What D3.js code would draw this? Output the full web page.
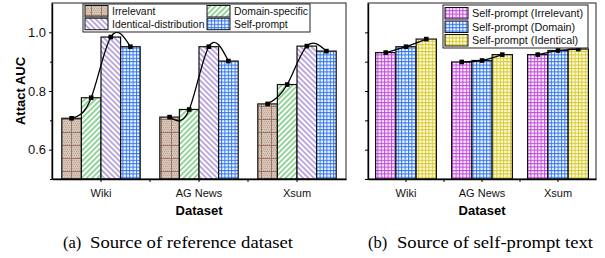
<!DOCTYPE html>
<html>
<head>
<meta charset="utf-8">
<script src="https://cdn.jsdelivr.net/npm/d3@7"></script>
<style>
  body { margin: 0; background: #fff; }
  text { font-family: "Liberation Sans", Arial, sans-serif; }
</style>
</head>
<body>
<svg id="vis"></svg>
<script>
const plotWidth = 605;
const plotHeight = 258;

// data
const datasets = ['Wiki', 'AG News', 'Xsum'];

const refSources = ['Irrelevant', 'Domain-specific', 'Identical-distribution', 'Self-prompt'];
const irrelevant = [0.707, 0.711, 0.756];
const domainSpecific = [0.777, 0.737, 0.822];
const identicalDist = [0.984, 0.951, 0.953];
const selfPrompt = [0.951, 0.902, 0.936];

const promptSources = ['Self-prompt (Irrelevant)', 'Self-prompt (Domain)', 'Self-prompt (Identical)'];
const spIrrelevant = [0.931, 0.899, 0.924];
const spDomain = [0.951, 0.904, 0.938];
const spIdentical = [0.977, 0.924, 0.943];

const yTicks = [0.6, 0.8, 1.0];
const yMinor = [0.5, 0.7, 0.9];

const svg = d3.select('#vis')
            .attr('width', plotWidth)
            .attr('height', plotHeight);

const plotTop = 3, plotBottom = 179;
const y = d3.scaleLinear().domain([0.5, 1.1]).range([plotBottom, plotTop]);


function makePatterns() {
    const defs = svg.append('defs');

    // brown grid on tan
    let p = defs.append('pattern').attr('id', 'pIrr')
        .attr('patternUnits', 'userSpaceOnUse').attr('width', 10).attr('height', 13)
        .attr('x', 1).attr('y', 2);
    p.append('rect').attr('width', 10).attr('height', 13).attr('fill', '#d6c4b6');
    for (let i = 0; i < 10; i += 2) {
        for (let j = 0; j < 13; j += 2) {
            p.append('rect').attr('x', i + (j % 4 ? 1 : 0)).attr('y', j).attr('width', 1).attr('height', 1)
                .attr('fill', '#bfa595');
        }
    }
    p.append('path').attr('d', 'M0,0.4H10M0.4,0V13').attr('stroke', '#8a6550').attr('stroke-width', 0.9);

    // diagonal hatches
    const hatch = (id, color, angle) => {
        let h = defs.append('pattern').attr('id', id)
            .attr('patternUnits', 'userSpaceOnUse').attr('width', 3.8).attr('height', 3.8)
            .attr('patternTransform', `rotate(${angle})`);
        h.append('rect').attr('width', 3.8).attr('height', 3.8).attr('fill', '#fff');
        h.append('line').attr('x1', 1).attr('x2', 1).attr('y1', 0).attr('y2', 3.8)
            .attr('stroke', color).attr('stroke-width', 1.1);
    };
    hatch('pDom', '#3fb54a', 45);
    hatch('pIde', '#8a68c6', -45);

    // fine grids
    const grid = (id, color, bg) => {
        let g = defs.append('pattern').attr('id', id)
            .attr('patternUnits', 'userSpaceOnUse').attr('width', 3.4).attr('height', 3.4);
        g.append('rect').attr('width', 3.4).attr('height', 3.4).attr('fill', bg);
        g.append('path').attr('d', 'M0,0.5H3.4M0.5,0V3.4').attr('stroke', color).attr('stroke-width', 1);
    };
    grid('pSelf', '#2f74ee', '#f4f8ff');
    grid('pMag', '#c145dc', '#fbf2fd');
    grid('pBlu', '#2f74ee', '#f4f8ff');
    grid('pYel', '#d6c92a', '#fdfbe8');
}


function drawPanel(x0, x1pos, seriesVals, fills, showLabels) {
    const x = d3.scaleBand().domain(datasets).range([x0, x1pos])
                .paddingInner(0.2).paddingOuter(0.1);
    const xs = d3.scaleBand().domain(d3.range(seriesVals.length)).range([0, x.bandwidth()]);
    const g = svg.append('g');

    // bars
    seriesVals.forEach((vals, si) => {
        g.selectAll(null).data(datasets).enter().append('rect')
            .attr('x', d => x(d) + xs(si))
            .attr('y', (d, i) => y(vals[i]))
            .attr('width', xs.bandwidth())
            .attr('height', (d, i) => plotBottom - y(vals[i]))
            .attr('fill', `url(#${fills[si]})`)
            .attr('stroke', '#111')
            .attr('stroke-width', 1.2);
    });

    // smooth line through the bar tops of each group
    const line = d3.line().curve(d3.curveNatural);
    datasets.forEach((d, i) => {
        const pts = seriesVals.map((vals, si) => [x(d) + xs(si) + xs.bandwidth() / 2, y(vals[i])]);
        g.append('path').attr('d', line(pts))
            .attr('fill', 'none').attr('stroke', '#000').attr('stroke-width', 1.3);
        g.selectAll(null).data(pts).enter().append('rect')
            .attr('x', p => p[0] - 2.3).attr('y', p => p[1] - 2.3)
            .attr('width', 4.6).attr('height', 4.6).attr('fill', '#000');
    });

    // frame
    g.append('rect').attr('x', x0).attr('y', plotTop)
        .attr('width', x1pos - x0).attr('height', plotBottom - plotTop)
        .attr('fill', 'none').attr('stroke', '#222').attr('stroke-width', 1);

    // x axis
    const xAxis = g.append('g').attr('transform', `translate(0,${plotBottom})`)
        .call(d3.axisBottom(x).tickSize(3).tickSizeOuter(0));
    xAxis.select('.domain').attr('stroke-width', 1.4);
    xAxis.selectAll('text').attr('font-size', 11).attr('dy', '1.1em').attr('fill', '#111');
    const step = x.step();
    xAxis.selectAll('.bound').data([1, 2]).enter().append('line')
        .attr('x1', k => x0 + step * k).attr('x2', k => x0 + step * k)
        .attr('y1', 0).attr('y2', 3).attr('stroke', '#000');

    // y axis
    const yAxis = g.append('g').attr('transform', `translate(${x0},0)`);
    if (showLabels) {
        yAxis.call(d3.axisLeft(y).tickValues(yTicks).tickFormat(d3.format('.1f')).tickSize(3).tickSizeOuter(0));
        yAxis.append('g').call(d3.axisLeft(y).tickValues(yMinor).tickFormat('').tickSize(2).tickSizeOuter(0))
            .select('.domain').remove();
    } else {
        yAxis.call(d3.axisLeft(y).tickValues(yTicks.concat(yMinor)).tickFormat('').tickSize(3).tickSizeOuter(0));
    }
    yAxis.select('.domain').attr('stroke-width', 1.4);
    yAxis.selectAll('text').attr('font-size', 13).attr('fill', '#111');

    // axis title
    g.append('text').attr('x', (x0 + x1pos) / 2).attr('y', 215)
        .attr('text-anchor', 'middle').attr('font-size', 13).attr('font-weight', 'bold')
        .text('Dataset');
}


function drawLegend(items, fills, boxX, boxY, boxW, boxH, rows, fontSize) {
    const g = svg.append('g');
    g.append('rect').attr('x', boxX).attr('y', boxY).attr('width', boxW).attr('height', boxH)
        .attr('fill', '#fff').attr('stroke', '#222').attr('stroke-width', 1);
    items.forEach((name, i) => {
        const r = rows[i];
        g.append('rect').attr('x', r[0]).attr('y', r[1]).attr('width', 23).attr('height', 11.5)
            .attr('fill', `url(#${fills[i]})`).attr('stroke', '#111').attr('stroke-width', 1);
        g.append('text').attr('x', r[0] + 27).attr('y', r[1] + 9.6)
            .attr('font-size', fontSize).attr('fill', '#111').text(name);
    });
}


function main() {
    makePatterns();

    drawPanel(52, 346, [irrelevant, domainSpecific, identicalDist, selfPrompt],
              ['pIrr', 'pDom', 'pIde', 'pSelf'], true);
    drawPanel(368, 596, [spIrrelevant, spDomain, spIdentical],
              ['pMag', 'pBlu', 'pYel'], false);

    drawLegend(refSources, ['pIrr', 'pDom', 'pIde', 'pSelf'], 83, 4, 227, 28,
               [[85, 5.5], [207, 5.5], [85, 18.2], [207, 18.2]], 10.4);
    drawLegend(promptSources, ['pMag', 'pBlu', 'pYel'], 443, 5, 145, 43,
               [[445, 7.5], [445, 21], [445, 34.5]], 10.8);

    svg.append('text').attr('transform', 'translate(25,91) rotate(-90)')
        .attr('text-anchor', 'middle').attr('font-size', 13).attr('font-weight', 'bold')
        .text('Attact AUC');

    // sub captions
    const cap = [[63, 90, 203, '(a)', 'Source of reference dataset'],
                 [368, 397, 196, '(b)', 'Source of self-prompt text']];
    cap.forEach(c => {
        svg.append('text').attr('x', c[0]).attr('y', 248)
            .style('font-family', '"Liberation Serif", "Times New Roman", serif')
            .attr('font-size', 16.5).text(c[3]);
        svg.append('text').attr('x', c[1]).attr('y', 248)
            .style('font-family', '"Liberation Serif", "Times New Roman", serif')
            .attr('font-size', 16.5)
            .attr('textLength', c[2]).attr('lengthAdjust', 'spacingAndGlyphs')
            .text(c[4]);
    });
}


main()
</script>
</body>
</html>
